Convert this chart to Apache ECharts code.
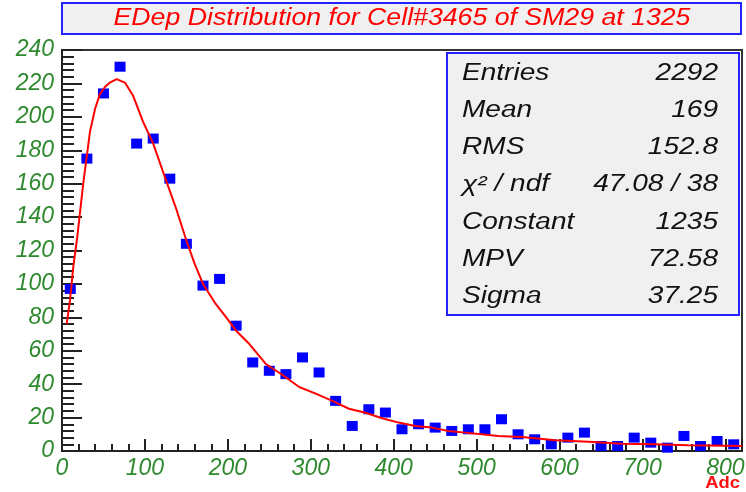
<!DOCTYPE html>
<html>
<head>
<meta charset="utf-8">
<script src="https://cdn.jsdelivr.net/npm/echarts@6/dist/echarts.min.js"></script>
<style>
html,body{margin:0;padding:0;background:#fff;}
#c{width:746px;height:492px;}
</style>
</head>
<body>
<div id="c"></div>
<script>
// ---- data ----
const titleText = 'EDep Distribution for Cell#3465 of SM29 at 1325';
const xAxisName = 'Adc';
const binCenters = [10,30,50,70,90,110,130,150,170,190,210,230,250,270,290,310,330,350,370,390,410,430,450,470,490,510,530,550,570,590,610,630,650,670,690,710,730,750,770,790,810];
const counts = [97,175,214,230,184,187,163,124,99,103,75,53,48,46,56,47,30,15,25,23,13,16,14,12,13,13,19,10,7,4,8,11,3,3,8,5,2,9,3,6,4];
const fitX = [5.6,9.6,13.6,18.4,25.6,33.7,40,45.7,52,57.8,65.8,75.8,85.8,97.8,110,124,137,150,160,170,184,198,210,226,246,266,286,306,326,346,366,386,406,426,446,466,486,506,526,555,595,635,675,715,755,820];
const fitY = [76,90,110,128,160,191,205,213.6,218,220.5,222.6,220.5,212.6,197,184,164,146,126,112,100,89,80,72,64,52,45.5,38.3,34.3,30,25.3,22.9,19.6,17,15,14,12,11,10,9,8.4,6.4,5.6,4.4,4,3.4,3];
const statLabels = ['Entries','Mean','RMS','\u03c7\u00b2 / ndf','Constant','MPV','Sigma'];
const statValues = ['2292','169','152.8','47.08 / 38','1235','72.58','37.25'];
const xTicks = [0,100,200,300,400,500,600,700,800];
const yTicks = [0,20,40,60,80,100,120,140,160,180,200,220,240];

const points = binCenters.map((x, i) => [x, counts[i]]);
const fitLine = fitX.map((x, i) => [x, fitY[i]]);

const FONT = '"Liberation Sans", Arial, sans-serif';
const GREEN = '#2f8a2f';

const statGraphics = [];
statGraphics.push({
  type: 'rect', z: 100,
  shape: { x: 447, y: 53, width: 292, height: 262 },
  style: { fill: '#f0f0f0', stroke: '#2323ff', lineWidth: 2 }
});
statLabels.forEach((lab, i) => {
  const y = 73.5 + 37.2 * i;
  statGraphics.push({
    type: 'text', z: 101, x: 462, y: y, scaleX: 1.22,
    style: { text: lab, fill: '#111', font: 'italic 23px ' + FONT, textAlign: 'left', textVerticalAlign: 'middle' }
  });
  statGraphics.push({
    type: 'text', z: 101, x: 718, y: y, scaleX: 1.22,
    style: { text: statValues[i], fill: '#111', font: 'italic 23px ' + FONT, textAlign: 'right', textVerticalAlign: 'middle' }
  });
});

const chart = echarts.init(document.getElementById('c'), null, { renderer: 'canvas' });
chart.setOption({
  backgroundColor: '#ffffff',
  animation: false,
  grid: { left: 62, right: 4, top: 50, bottom: 41, containLabel: false, outerBoundsMode: 'none', show: true, borderColor: '#333', borderWidth: 2, backgroundColor: '#fff' },
  xAxis: {
    type: 'value', min: 0, max: 820, interval: 100,
    axisLine: { lineStyle: { color: '#222', width: 2 } },
    axisTick: { inside: true, length: 12, lineStyle: { color: '#222', width: 2 } },
    minorTick: { show: true, splitNumber: 5, length: 7, lineStyle: { color: '#222', width: 2 } },
    splitLine: { show: false },
    axisLabel: {
      showMaxLabel: false, margin: 6, color: GREEN, fontFamily: FONT, fontStyle: 'italic', fontSize: 23,
      formatter: v => (xTicks.indexOf(v) >= 0 ? String(v) : '')
    }
  },
  yAxis: {
    type: 'value', min: 0, max: 240, interval: 20,
    axisLine: { lineStyle: { color: '#222', width: 2 } },
    axisTick: { inside: true, length: 20, lineStyle: { color: '#222', width: 2 } },
    minorTick: { show: true, splitNumber: 5, length: 12, lineStyle: { color: '#222', width: 2 } },
    splitLine: { show: false },
    axisLabel: {
      margin: 8, color: GREEN, fontFamily: FONT, fontStyle: 'italic', fontSize: 23,
      formatter: v => (yTicks.indexOf(v) >= 0 ? String(v) : '')
    }
  },
  series: [
    {
      type: 'scatter', name: 'data', data: points, z: 3,
      symbol: 'rect', symbolSize: [11, 10],
      itemStyle: { color: '#0000ff', opacity: 1 }
    },
    {
      type: 'line', name: 'fit', data: fitLine, z: 4,
      showSymbol: false, smooth: false,
      lineStyle: { color: '#ff0000', width: 2 }
    }
  ],
  graphic: [
    {
      type: 'rect', z: 100,
      shape: { x: 62, y: 3, width: 679, height: 31 },
      style: { fill: '#f0f0f0', stroke: '#2323ff', lineWidth: 2 }
    },
    {
      type: 'text', z: 101, x: 402, y: 19, scaleX: 1.16,
      style: { text: titleText, fill: '#ff0000', font: 'italic 23px ' + FONT, textAlign: 'center', textVerticalAlign: 'middle' }
    },
    {
      type: 'text', z: 101, x: 740, y: 484, scaleX: 1.15,
      style: { text: xAxisName, fill: '#ff1010', font: 'bold 16px ' + FONT, textAlign: 'right', textVerticalAlign: 'middle' }
    }
  ].concat(statGraphics)
});
</script>
</body>
</html>
